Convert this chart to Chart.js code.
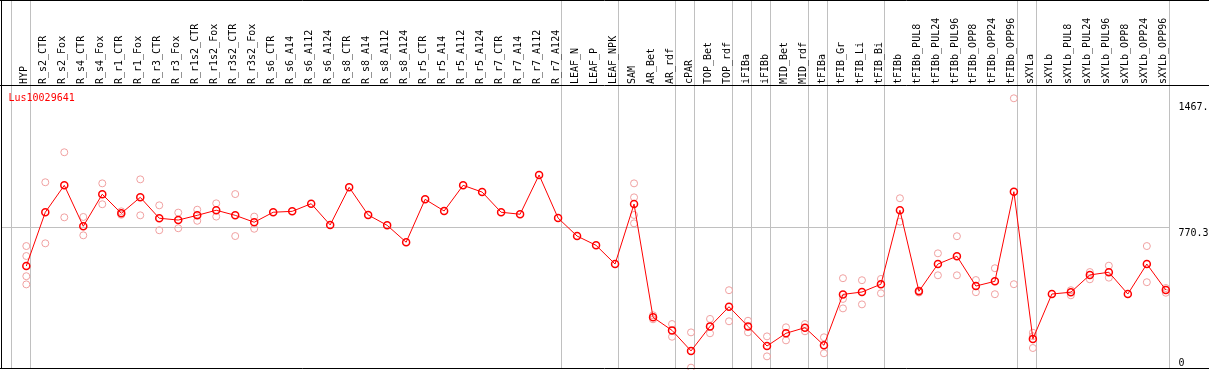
<!DOCTYPE html>
<html><head><meta charset="utf-8">
<script src="https://cdn.jsdelivr.net/npm/chart.js@4/dist/chart.umd.min.js"></script>
<style>html,body{margin:0;padding:0;background:#fff;overflow:hidden;}</style>
</head><body>
<canvas id="c" width="1209" height="370"></canvas>
<script>
const geneName = 'Lus10029641';
const categories = ['HYP','R_s2_CTR','R_s2_Fox','R_s4_CTR','R_s4_Fox','R_r1_CTR','R_r1_Fox','R_r3_CTR','R_r3_Fox','R_r1s2_CTR','R_r1s2_Fox','R_r3s2_CTR','R_r3s2_Fox','R_s6_CTR','R_s6_A14','R_s6_A112','R_s6_A124','R_s8_CTR','R_s8_A14','R_s8_A112','R_s8_A124','R_r5_CTR','R_r5_A14','R_r5_A112','R_r5_A124','R_r7_CTR','R_r7_A14','R_r7_A112','R_r7_A124','LEAF_N','LEAF_P','LEAF_NPK','SAM','AR_Bet','AR_rdf','cPAR','TOP_Bet','TOP_rdf','iFIBa','iFIBb','MID_Bet','MID_rdf','tFIBa','tFIB_Gr','tFIB_Li','tFIB_Bi','tFIBb','tFIBb_PUL8','tFIBb_PUL24','tFIBb_PUL96','tFIBb_OPP8','tFIBb_OPP24','tFIBb_OPP96','sXYLa','sXYLb','sXYLb_PUL8','sXYLb_PUL24','sXYLb_PUL96','sXYLb_OPP8','sXYLb_OPP24','sXYLb_OPP96'];
const meanValues = [561,857,1005,780,956,851,939,824,814,840,868,840,802,857,862,904,787,994,842,785,692,928,864,1005,968,857,846,1062,825,726,675,572,902,279,207,94,229,337,229,121,191,222,125,405,418,461,868,422,572,615,451,477,970,160,407,417,512,527,407,572,429];
const replicateValues = [
  [671,616,505,460],[1022,686],[1187,829],[831,730],[1016,901],[862,843],[1038,840],[895,758],[855,769],[871,810],[906,833],[957,726],[833,766],
  [],[],[],[],[],[],[],[],[],[],[],[],[],[],[],[],[],[],[],
  [1016,939,842,796],[290,268],[242,172],[196,2],[270,191],[428,257],[260,196],[174,64],[224,152],[242,202],[169,81],
  [494,380,328],[483,350],[490,411],[934,805],[427,415],[631,510],[725,510],[484,417],[549,406],[1484,461],
  [194,175,110],[],[428,400],[528,488],[563,497],[],[671,472],[440,414]
];
const groupEnds = [-1,0,28,31,34,35,37,38,39,41,42,45,52,53,60];
const yTickValues = [0, 770.3, 1467];
const yTickLabels = ['0', '770.3', '1467.'];
const yGridValues = [770.3];

const X_MIN = -1.28, X_MAX = 60.22, Y_MAX = 1551.6, SEP_OFFSET = 0.2;
const MONO = '"DejaVu Sans Mono", "Liberation Mono", monospace';

function noPad(s) { s.paddingLeft = 0; s.paddingRight = 0; s.paddingTop = 0; s.paddingBottom = 0; }

const decor = {
  id: 'decor',
  afterDraw(chart) {
    const ctx = chart.ctx, ca = chart.chartArea, W = chart.width;
    ctx.save();
    ctx.strokeStyle = '#000'; ctx.lineWidth = 1;
    ctx.beginPath();
    ctx.moveTo(0, 0.5); ctx.lineTo(W, 0.5);
    ctx.moveTo(1.5, 0); ctx.lineTo(1.5, ca.bottom + 1);
    ctx.moveTo(0, ca.top - 0.5); ctx.lineTo(W, ca.top - 0.5);
    ctx.moveTo(0, ca.bottom + 0.5); ctx.lineTo(W, ca.bottom + 0.5);
    ctx.stroke();
    ctx.font = '10px ' + MONO;
    ctx.textBaseline = 'alphabetic'; ctx.textAlign = 'left';
    ctx.fillStyle = '#ff0000';
    ctx.fillText(geneName, 8.5, ca.top + 15);
    ctx.fillStyle = '#000';
    const ys = chart.scales.y;
    yTickValues.forEach((v, i) => {
      const py = Math.min(ys.getPixelForValue(v) + 8.5, ca.bottom - 2);
      ctx.fillText(yTickLabels[i], ca.right + 8.5, py);
    });
    ctx.restore();
  }
};

new Chart(document.getElementById('c'), {
  type: 'line',
  data: {
    datasets: [
      {
        label: 'mean',
        data: meanValues.map((v, i) => ({x: i, y: v})),
        borderColor: '#ff0000', borderWidth: 1,
        pointRadius: 3.5, pointBorderWidth: 1.5,
        pointBorderColor: '#ff0000', pointBackgroundColor: 'rgba(0,0,0,0)',
        tension: 0, order: 0, clip: false, xAxisID: 'x', yAxisID: 'y'
      },
      {
        label: 'replicates',
        data: replicateValues.flatMap((arr, i) => arr.map(v => ({x: i, y: v}))),
        showLine: false,
        pointRadius: 3.5, pointBorderWidth: 1,
        pointBorderColor: '#f0a0a0', pointBackgroundColor: 'rgba(0,0,0,0)',
        order: 1, clip: false, xAxisID: 'x', yAxisID: 'y'
      }
    ]
  },
  options: {
    responsive: false, animation: false,
    layout: {autoPadding: false, padding: {top: 2, left: 2, right: 0, bottom: 2}},
    plugins: {legend: {display: false}, tooltip: {enabled: false}, title: {display: false}},
    scales: {
      xl: {
        type: 'linear', position: 'top', weight: 10, min: X_MIN, max: X_MAX,
        afterBuildTicks: s => { s.ticks = categories.map((_, i) => ({value: i})); },
        afterFit: s => { s.height = 84; noPad(s); },
        grid: {display: false, drawTicks: false}, border: {display: false},
        ticks: {autoSkip: false, minRotation: 90, maxRotation: 90, padding: 2, labelOffset: 10,
                color: '#000', font: {family: MONO, size: 10},
                callback: v => categories[Math.round(v)] ?? ''}
      },
      x: {
        type: 'linear', position: 'top', weight: 0, min: X_MIN, max: X_MAX,
        afterBuildTicks: s => { s.ticks = groupEnds.map(i => ({value: i + SEP_OFFSET})); },
        afterFit: s => { s.height = 0; noPad(s); },
        grid: {color: '#c0c0c0', lineWidth: 1, drawTicks: true, tickLength: 86},
        border: {display: false},
        ticks: {display: false}
      },
      y: {
        type: 'linear', position: 'right', min: 0, max: Y_MAX,
        afterBuildTicks: s => { s.ticks = yTickValues.map(v => ({value: v})); },
        afterFit: s => { s.width = 39; noPad(s); },
        grid: {color: c => (c.tick && yGridValues.includes(c.tick.value)) ? '#c0c0c0' : 'rgba(0,0,0,0)', drawTicks: false},
        border: {display: false},
        ticks: {display: false}
      }
    }
  },
  plugins: [decor]
});
</script>
</body></html>
